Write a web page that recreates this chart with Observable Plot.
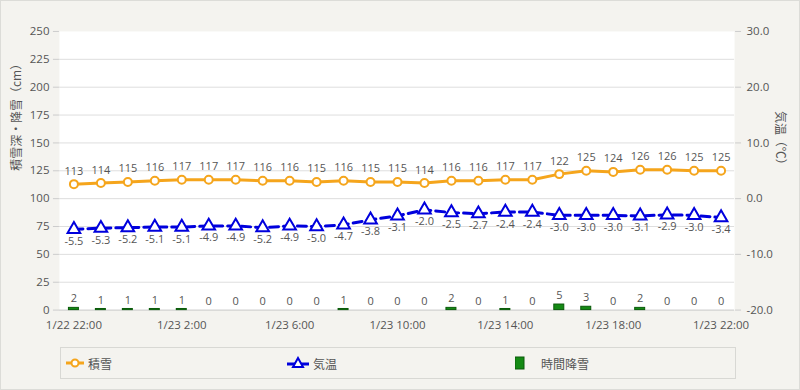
<!DOCTYPE html>
<html><head><meta charset="utf-8">
<script src="https://cdn.jsdelivr.net/npm/d3@7"></script>
<script src="https://cdn.jsdelivr.net/npm/@observablehq/plot@0.6"></script>
<style>
html,body{margin:0;padding:0;background:#f4f3ef;}
#wrap{position:relative;width:798px;height:388px;border:1px solid #dcdcd8;background:#f4f3ef;font-family:"Open Sans","Noto Sans CJK JP",sans-serif;overflow:hidden;}
#chart{position:absolute;left:-1px;top:-1px;}
#legend{position:absolute;left:59px;top:346px;width:674px;height:30px;border:1px solid #d8d8d4;font-family:"Noto Sans CJK JP",sans-serif;font-size:12px;color:#555;}
.item{position:absolute;top:0;height:30px;display:flex;align-items:center;}
.item svg{margin-right:4px;}
</style></head>
<body><div id="wrap"><div id="chart"></div>
<div id="legend">
<div class="item" style="left:5px"><svg width="18" height="12"><line x1="0" y1="6" x2="18" y2="6" stroke="#f5a51c" stroke-width="3"/><circle cx="9" cy="6" r="3.5" fill="white" stroke="#f5a51c" stroke-width="2"/></svg>積雪</div>
<div class="item" style="left:226px"><svg width="22" height="14"><line x1="0" y1="8" x2="22" y2="8" stroke="#0000dd" stroke-width="3"/><path d="M11,2 L16,11 L6,11 Z" fill="white" stroke="#0000dd" stroke-width="2"/></svg>気温</div>
<div class="item" style="left:454px"><svg width="22" height="14"><rect x="0" y="1" width="9" height="12" fill="#148a14" stroke="#0a5a0a" stroke-width="1"/></svg>時間降雪</div>
</div></div>
<script>
const times = ["1/22 22:00","1/22 23:00","1/23 0:00","1/23 1:00","1/23 2:00","1/23 3:00","1/23 4:00","1/23 5:00","1/23 6:00","1/23 7:00","1/23 8:00","1/23 9:00","1/23 10:00","1/23 11:00","1/23 12:00","1/23 13:00","1/23 14:00","1/23 15:00","1/23 16:00","1/23 17:00","1/23 18:00","1/23 19:00","1/23 20:00","1/23 21:00","1/23 22:00"];
const snowDepth = [113,114,115,116,117,117,117,116,116,115,116,115,115,114,116,116,117,117,122,125,124,126,126,125,125];
const temperature = [-5.5,-5.3,-5.2,-5.1,-5.1,-4.9,-4.9,-5.2,-4.9,-5.0,-4.7,-3.8,-3.1,-2.0,-2.5,-2.7,-2.4,-2.4,-3.0,-3.0,-3.0,-3.1,-2.9,-3.0,-3.4];
const snowfall = [2,1,1,1,1,0,0,0,0,0,1,0,0,0,2,0,1,0,5,3,0,2,0,0,0];
const xTicks = ["1/22 22:00","1/23 2:00","1/23 6:00","1/23 10:00","1/23 14:00","1/23 18:00","1/23 22:00"];
const leftTicks = [0,25,50,75,100,125,150,175,200,225,250];
const gridTicks = [25,50,75,100,125,150,175,200,225];
const tempTicks = [-20,-10,0,10,20,30];
const leftTitle = "積雪深・降雪（cm）";
const rightTitle = "気温（℃）";

const t2y = t => (t + 20) * 5;
const y2t = y => y / 5 - 20;

const rows = times.map((t, i) => ({t, depth: snowDepth[i], temp: temperature[i], snow: snowfall[i]}));

const ORANGE = "#f5a51c", BLUE = "#0000dd", GREEN = "#148a14", TXT = "#555";

const chart = Plot.plot({
  width: 800, height: 340,
  marginLeft: 59, marginRight: 65, marginTop: 31, marginBottom: 30,
  style: {background: "transparent", fontFamily: "'Open Sans','Noto Sans CJK JP',sans-serif", fontSize: "11px", color: TXT},
  x: {type: "band", domain: times, padding: 0},
  y: {domain: [0, 250]},
  marks: [
    Plot.frame({fill: "white", stroke: "none"}),
    Plot.ruleY(gridTicks, {stroke: "#dedede"}),
    Plot.ruleY([0], {stroke: "#c8c8c8"}),
    Plot.axisY({anchor: "left", ticks: leftTicks, tickSize: 6, tickPadding: 4, label: null, stroke: "#ccc", fill: TXT, fontSize: 11.5}),
    Plot.axisY({anchor: "right", ticks: tempTicks.map(t2y), tickFormat: d => y2t(d).toFixed(1), tickSize: 6, tickPadding: 6, label: null, stroke: "#ccc", fill: TXT, fontSize: 11.5}),
    Plot.axisX({ticks: xTicks, tickSize: 0, tickPadding: 11, label: null, fill: TXT, fontSize: 11.5}),
    Plot.barY(rows, {x: "t", y: "snow", fill: GREEN, stroke: "#0a5a0a", strokeWidth: 1, insetLeft: 8.5, insetRight: 8.5}),
    Plot.text(rows, {x: "t", y: "snow", text: d => String(d.snow), dy: -9, fill: TXT, fontSize: 11}),
    Plot.line(rows, {x: "t", y: "depth", stroke: ORANGE, strokeWidth: 3}),
    Plot.dot(rows, {x: "t", y: "depth", r: 4, fill: "white", stroke: ORANGE, strokeWidth: 2}),
    Plot.text(rows, {x: "t", y: "depth", text: d => String(d.depth), dy: -13, fill: TXT, fontSize: 11}),
    Plot.line(rows, {x: "t", y: d => t2y(d.temp), stroke: BLUE, strokeWidth: 3, strokeDasharray: "9,5"}),
    Plot.dot(rows, {x: "t", y: d => t2y(d.temp), symbol: "triangle", r: 4.7, fill: "white", stroke: BLUE, strokeWidth: 2}),
    Plot.text(rows, {x: "t", y: d => t2y(d.temp), text: d => d.temp.toFixed(1), dy: 12, fill: TXT, fontSize: 11}),
    Plot.text([leftTitle], {frameAnchor: "left", dx: -42, rotate: -90, text: d => d, fill: TXT, fontSize: 12, fontFamily: "'Noto Sans CJK JP',sans-serif"}),
    Plot.text([rightTitle], {frameAnchor: "right", dx: 45, rotate: 90, text: d => d, fill: TXT, fontSize: 12, fontFamily: "'Noto Sans CJK JP',sans-serif"})
  ]
});
document.getElementById("chart").appendChild(chart);
</script></body></html>
